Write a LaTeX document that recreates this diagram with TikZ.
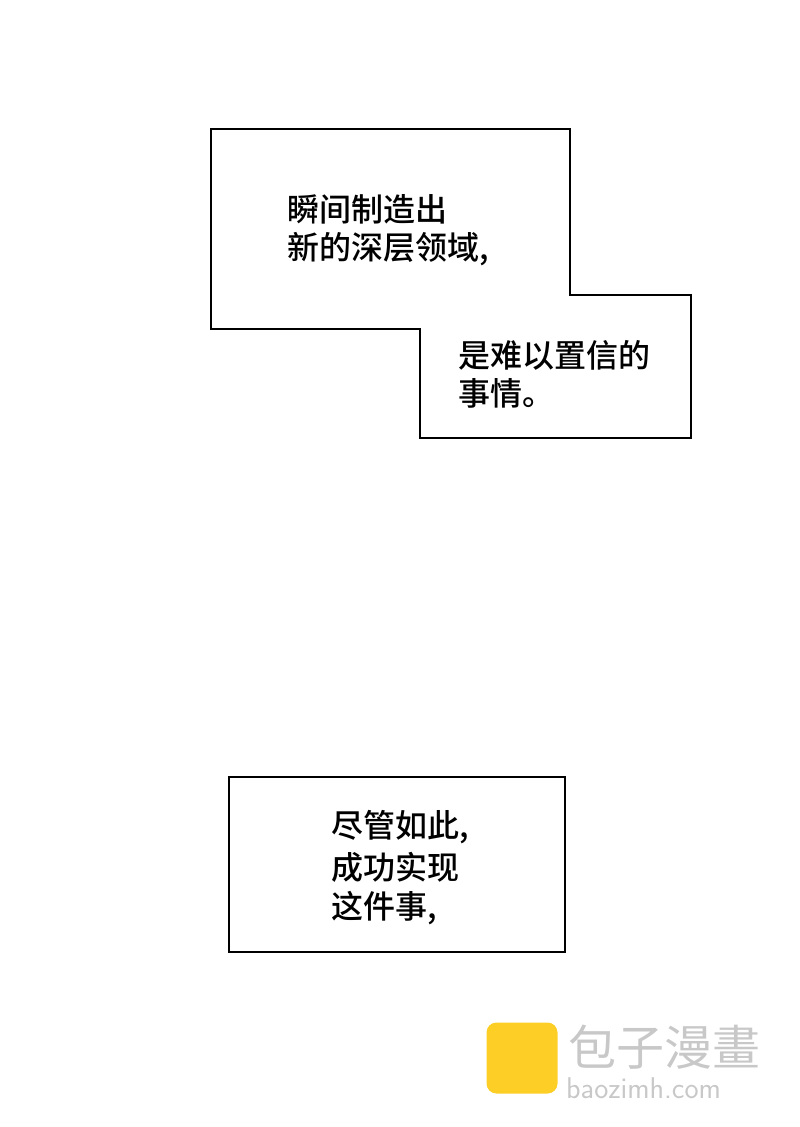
\documentclass[tikz,border=0pt]{standalone}
\usepackage{fontspec}
\newfontfamily\cjk{Noto Sans CJK SC Medium}
\newfontfamily\cjkmark{Noto Sans CJK SC}
\usepackage{xcolor}
\definecolor{mgrey}{RGB}{200,200,200}
\definecolor{myellow}{RGB}{252,206,38}
\usetikzlibrary{positioning}

\begin{document}
\begin{tikzpicture}[x=1pt, y=-1pt,
    panel/.style={draw, line width=1.6pt, fill=white},
    line/.style={anchor=west, inner sep=0pt, font=\cjk\fontsize{32}{32}\selectfont},
]
\useasboundingbox (0,0) rectangle (800,1127);
% upper box
\draw[panel] (211,129) -- (570,129) -- (570,295) -- (691,295) -- (691,438)
    -- (420,438) -- (420,329) -- (211,329) -- cycle;
\node[line] (lineA) at (287,209) {瞬间制造出};
\node[line, below=8pt of lineA.south west, anchor=north west] (lineB) {新的深层领域,};
\node[line] (lineC) at (458,355) {是难以置信的};
\node[line, below=8pt of lineC.south west, anchor=north west] (lineD) {事情。};

% lower box
\draw[panel] (229,777) rectangle (565,952);
\node[line] (lineE) at (331,827) {尽管如此,};
\node[line, below=8pt of lineE.south west, anchor=north west] (lineF) {成功实现};
\node[line, below=8pt of lineF.south west, anchor=north west] (lineG) {这件事,};

% watermark
\node[fill=myellow, rounded corners=10pt, minimum size=71pt] (logo) at (522,1058) {};
\node[anchor=west, inner sep=0pt, text=mgrey, font=\cjkmark\fontsize{48}{48}\selectfont] (markA) at (568,1047) {包子漫畫};
\node[anchor=west, inner sep=0pt, text=mgrey, font=\sffamily\fontsize{30}{30}\selectfont] (markB) at (566,1088) {baozimh.com};
\end{tikzpicture}
\end{document}
